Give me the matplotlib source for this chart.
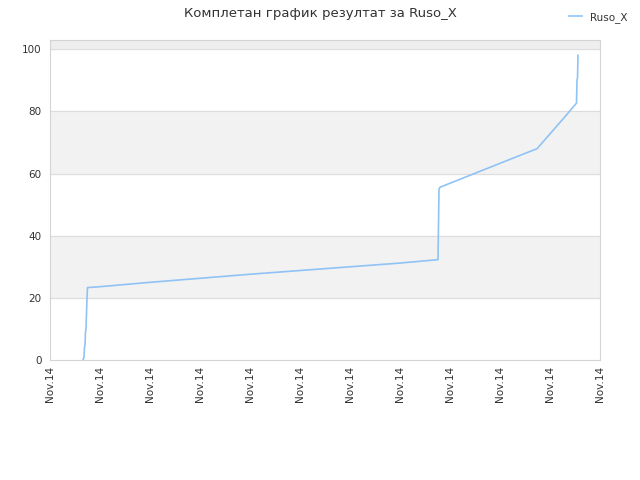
import matplotlib
matplotlib.use("Agg")
import matplotlib.pyplot as plt

# data (x in tick units, y in points)
series_name = "Ruso_X"
x_vals = [0.66, 0.68, 0.69, 0.70, 0.71, 0.72, 0.73, 0.74, 0.75,
          1.0, 2.0, 3.0, 4.0, 5.0, 6.0, 7.0, 7.76,
          7.78, 7.80, 8.5, 9.0, 9.5, 9.74, 10.0, 10.3, 10.53,
          10.54, 10.55, 10.56]
y_vals = [0.0, 1.0, 4.0, 5.0, 9.0, 10.0, 15.0, 20.0, 23.3,
          23.6, 25.0, 26.3, 27.6, 28.8, 30.0, 31.2, 32.3,
          55.0, 55.6, 60.1, 63.3, 66.5, 68.0, 72.8, 78.3, 82.7,
          90.2, 90.6, 98.1]
tick_labels = ["Nov.14"] * 12
title = "Комплетан график резултат за Ruso_X"

fig = plt.figure(figsize=(6.4, 4.8), dpi=100)
ax = fig.add_axes([50 / 640, 120 / 480, 550 / 640, 320 / 480])

# alternating horizontal bands
for lo, hi in [(20, 40), (60, 80), (100, 103)]:
    ax.axhspan(lo, hi, color="#f2f2f2" if hi < 103 else "#eeeeee", zorder=0)
for y in [20, 40, 60, 80, 100]:
    ax.axhline(y, color="#dddddd", lw=0.8, zorder=1)

ax.plot(x_vals, y_vals, color="#90c3f5", lw=1.2, label=series_name, zorder=3)

ax.set_xlim(0, 11)
ax.set_ylim(0, 103)
ax.set_xticks(range(12))
ax.set_xticklabels(tick_labels, rotation=90, fontsize=7.5, color="#333333")
ax.set_yticks([0, 20, 40, 60, 80, 100])
ax.tick_params(axis="y", labelsize=7.5, colors="#333333", length=0, pad=6)
ax.tick_params(axis="x", length=0, pad=4)
for s in ax.spines.values():
    s.set_color("#d4d4d4")

fig.suptitle(title, y=0.985, fontsize=9.5, color="#333333")
fig.legend(loc="upper right", bbox_to_anchor=(0.995, 0.995), frameon=False,
           fontsize=7.5, handlelength=1.2, labelcolor="#333333")

fig.savefig("out.png", dpi=100)
